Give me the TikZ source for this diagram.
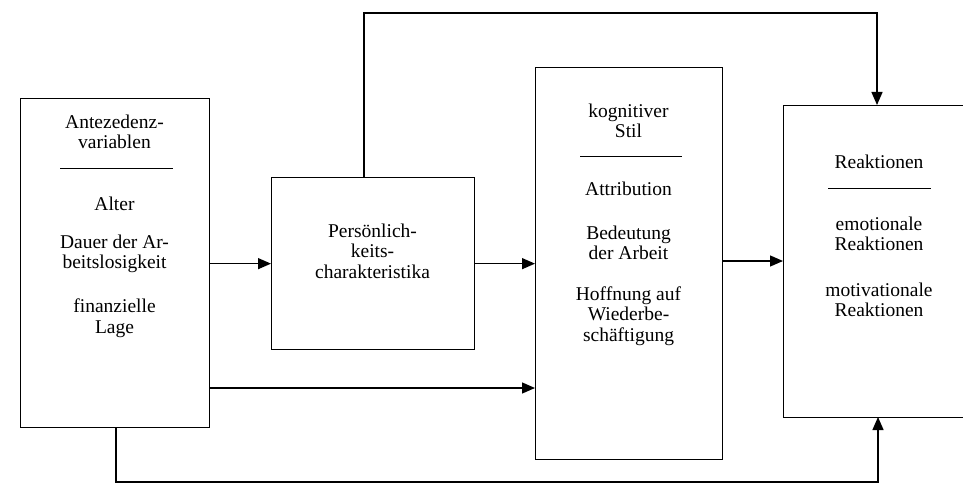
\documentclass[tikz,border=0pt]{standalone}
\usepackage{fontspec}
\setmainfont{Liberation Serif}
\usetikzlibrary{arrows.meta,calc}
\begin{document}
\begin{tikzpicture}[x=1pt,y=-1pt,
  box/.style={draw,line width=1.3pt,inner sep=0pt,anchor=north west},
  txt/.style={align=center,inner sep=0pt,font=\fontsize{19.5}{20.5}\selectfont},
  rulel/.style={line width=0.9pt},
  conn/.style={line width=1.3pt},
  arr/.style={conn,-{Triangle[length=13pt,width=11pt]}}]
\clip (0,0) rectangle (963,484);
\fill[white] (0,0) rectangle (963,484);
% boxes
\node[box,minimum width=189pt,minimum height=329pt] (b1) at (20,98) {};
\node[box,minimum width=203pt,minimum height=172pt] (b2) at (271,177) {};
\node[box,minimum width=187pt,minimum height=392pt] (b3) at (535,67) {};
\node[box,minimum width=230pt,minimum height=312pt] (b4) at (783,105) {};
% box 1 text
\node[txt] (t1a) at (114.5,132) {Antezedenz-\\variablen};
\draw[rulel] (60,168) coordinate (r1a) -- (173,168) coordinate (r1b);
\node[txt] (t1b) at (114.5,204) {Alter};
\node[txt] (t1c) at (114.5,254) {Dauer der Ar-\\beitslosigkeit};
\node[txt] (t1d) at (114.5,318) {finanzielle\\Lage};
% box 2 text
\node[txt] (t2) at (372.5,251) {Persönlich-\\keits-\\charakteristika};
% box 3 text
\node[txt] (t3a) at (628.5,121) {kognitiver\\Stil};
\draw[rulel] (580,156) coordinate (r3a) -- (682,156) coordinate (r3b);
\node[txt] (t3b) at (628.5,189) {Attribution};
\node[txt] (t3c) at (628.5,243) {Bedeutung\\der Arbeit};
\node[txt] (t3d) at (628.5,316) {Hoffnung auf\\Wiederbe-\\schäftigung};
% box 4 text
\node[txt] (t4a) at (879,162) {Reaktionen};
\draw[rulel] (828,188) coordinate (r4a) -- (931,188) coordinate (r4b);
\node[txt] (t4b) at (879,234) {emotionale\\Reaktionen};
\node[txt] (t4c) at (879,300) {motivationale\\Reaktionen};
% connectors
\draw[arr] (b1.east |- b2.west) -- (b2.west);
\draw[arr] (b2.east) -- (b2.east -| b3.west);
\coordinate (c3e) at (722,261);
\draw[arr] (c3e) -- (c3e -| b4.west);
\coordinate (c1lo) at (209,388);
\draw[arr] (c1lo) -- (c1lo -| b3.west);
\coordinate (c2top) at (364,177);
\coordinate (ctop) at (364,13);
\coordinate (c4top) at (877,105);
\draw[arr] (c2top) -- (ctop) -- (ctop -| c4top) -- (c4top);
\coordinate (cbot) at (116,482);
\coordinate (c4bot) at (878,417);
\draw[arr] (b1.south -| cbot) -- (cbot) -- (cbot -| c4bot) -- (c4bot);
\end{tikzpicture}
\end{document}
